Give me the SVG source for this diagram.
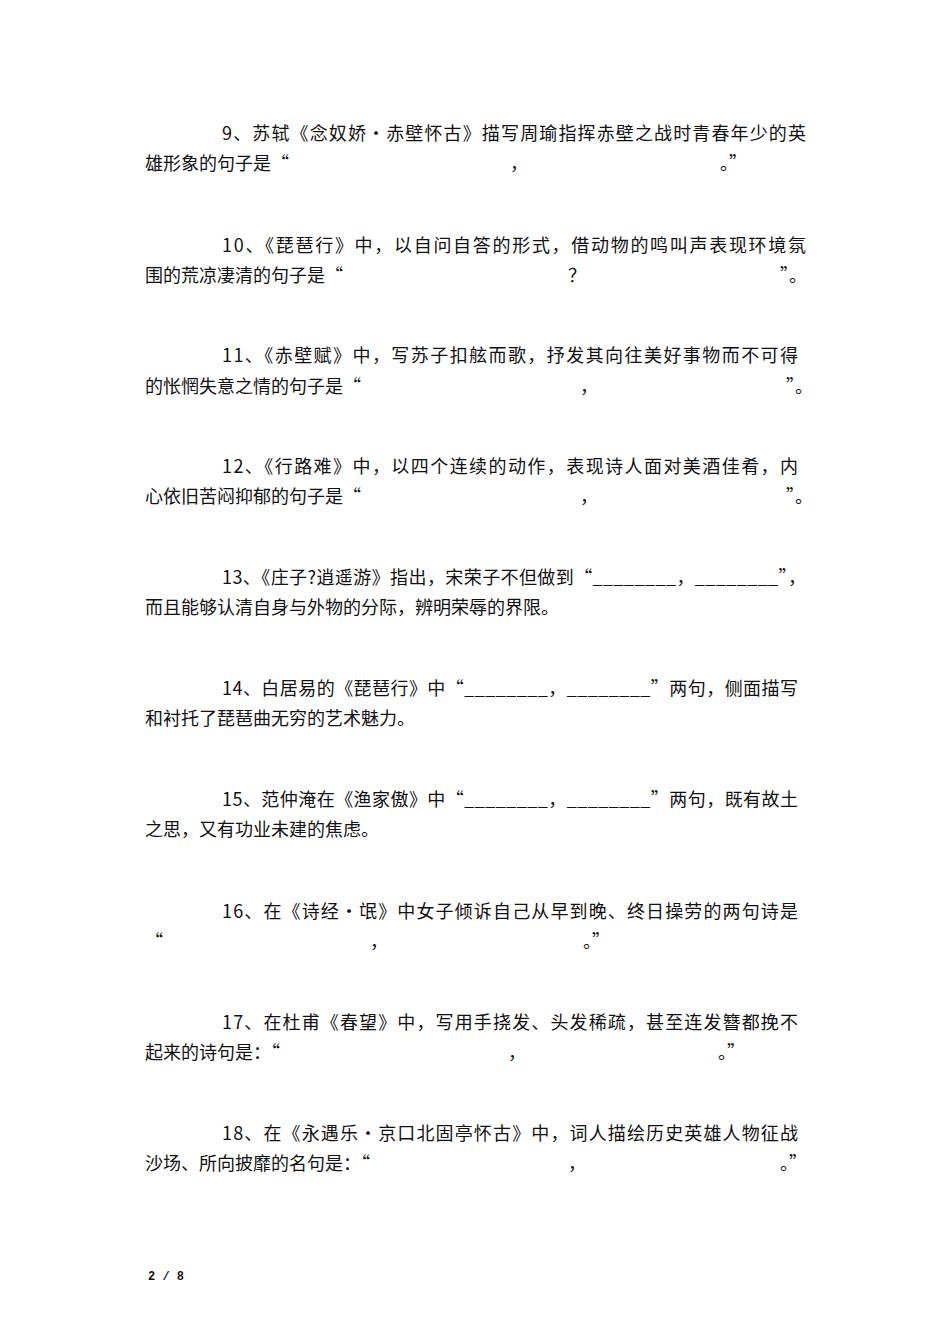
<svg xmlns="http://www.w3.org/2000/svg" width="950" height="1344" viewBox="0 0 950 1344">
<style>
text{font-family:"Noto Sans CJK SC","Liberation Serif",serif;font-size:18px;fill:#111}
.f{font-family:"Liberation Mono","Noto Sans CJK SC",monospace;font-size:12px;font-weight:bold}
</style>
<rect width="950" height="1344" fill="#fff"/>
<text x="222" y="140" textLength="584" lengthAdjust="spacing">9、苏轼《念奴娇·赤壁怀古》描写周瑜指挥赤壁之战时青春年少的英</text>
<text x="145" y="170">雄形象的句子是“</text><text x="510" y="170">，</text><text x="720" y="170">。”</text>
<text x="222" y="252" textLength="584" lengthAdjust="spacing">10、《琵琶行》中，以自问自答的形式，借动物的鸣叫声表现环境氛</text>
<text x="145" y="282">围的荒凉凄清的句子是“</text><text x="568" y="282">？</text><text x="780" y="282">”。</text>
<text x="222" y="362" textLength="576" lengthAdjust="spacing">11、《赤壁赋》中，写苏子扣舷而歌，抒发其向往美好事物而不可得</text>
<text x="145" y="393">的怅惘失意之情的句子是“</text><text x="580" y="393">，</text><text x="786" y="393">”。</text>
<text x="222" y="473" textLength="576" lengthAdjust="spacing">12、《行路难》中，以四个连续的动作，表现诗人面对美酒佳肴，内</text>
<text x="145" y="503">心依旧苦闷抑郁的句子是“</text><text x="580" y="503">，</text><text x="786" y="503">”。</text>
<text x="222" y="584" textLength="584" lengthAdjust="spacing">13、《庄子?逍遥游》指出，宋荣子不但做到“________，________”，</text>
<text x="145" y="614">而且能够认清自身与外物的分际，辨明荣辱的界限。</text>
<text x="222" y="695" textLength="576" lengthAdjust="spacing">14、白居易的《琵琶行》中“________，________”两句，侧面描写</text>
<text x="145" y="725">和衬托了琵琶曲无穷的艺术魅力。</text>
<text x="222" y="806" textLength="576" lengthAdjust="spacing">15、范仲淹在《渔家傲》中“________，________”两句，既有故土</text>
<text x="145" y="836">之思，又有功业未建的焦虑。</text>
<text x="222" y="918" textLength="576" lengthAdjust="spacing">16、在《诗经·氓》中女子倾诉自己从早到晚、终日操劳的两句诗是</text>
<text x="145" y="948">“</text><text x="370" y="948">，</text><text x="583" y="948">。”</text>
<text x="222" y="1029" textLength="576" lengthAdjust="spacing">17、在杜甫《春望》中，写用手挠发、头发稀疏，甚至连发簪都挽不</text>
<text x="145" y="1059">起来的诗句是：“</text><text x="508" y="1059">，</text><text x="718" y="1059">。”</text>
<text x="222" y="1140" textLength="576" lengthAdjust="spacing">18、在《永遇乐·京口北固亭怀古》中，词人描绘历史英雄人物征战</text>
<text x="145" y="1170">沙场、所向披靡的名句是：“</text><text x="568" y="1170">，</text><text x="780" y="1170">。”</text>
<text class="f" x="148" y="1280">2 / 8</text>
</svg>
